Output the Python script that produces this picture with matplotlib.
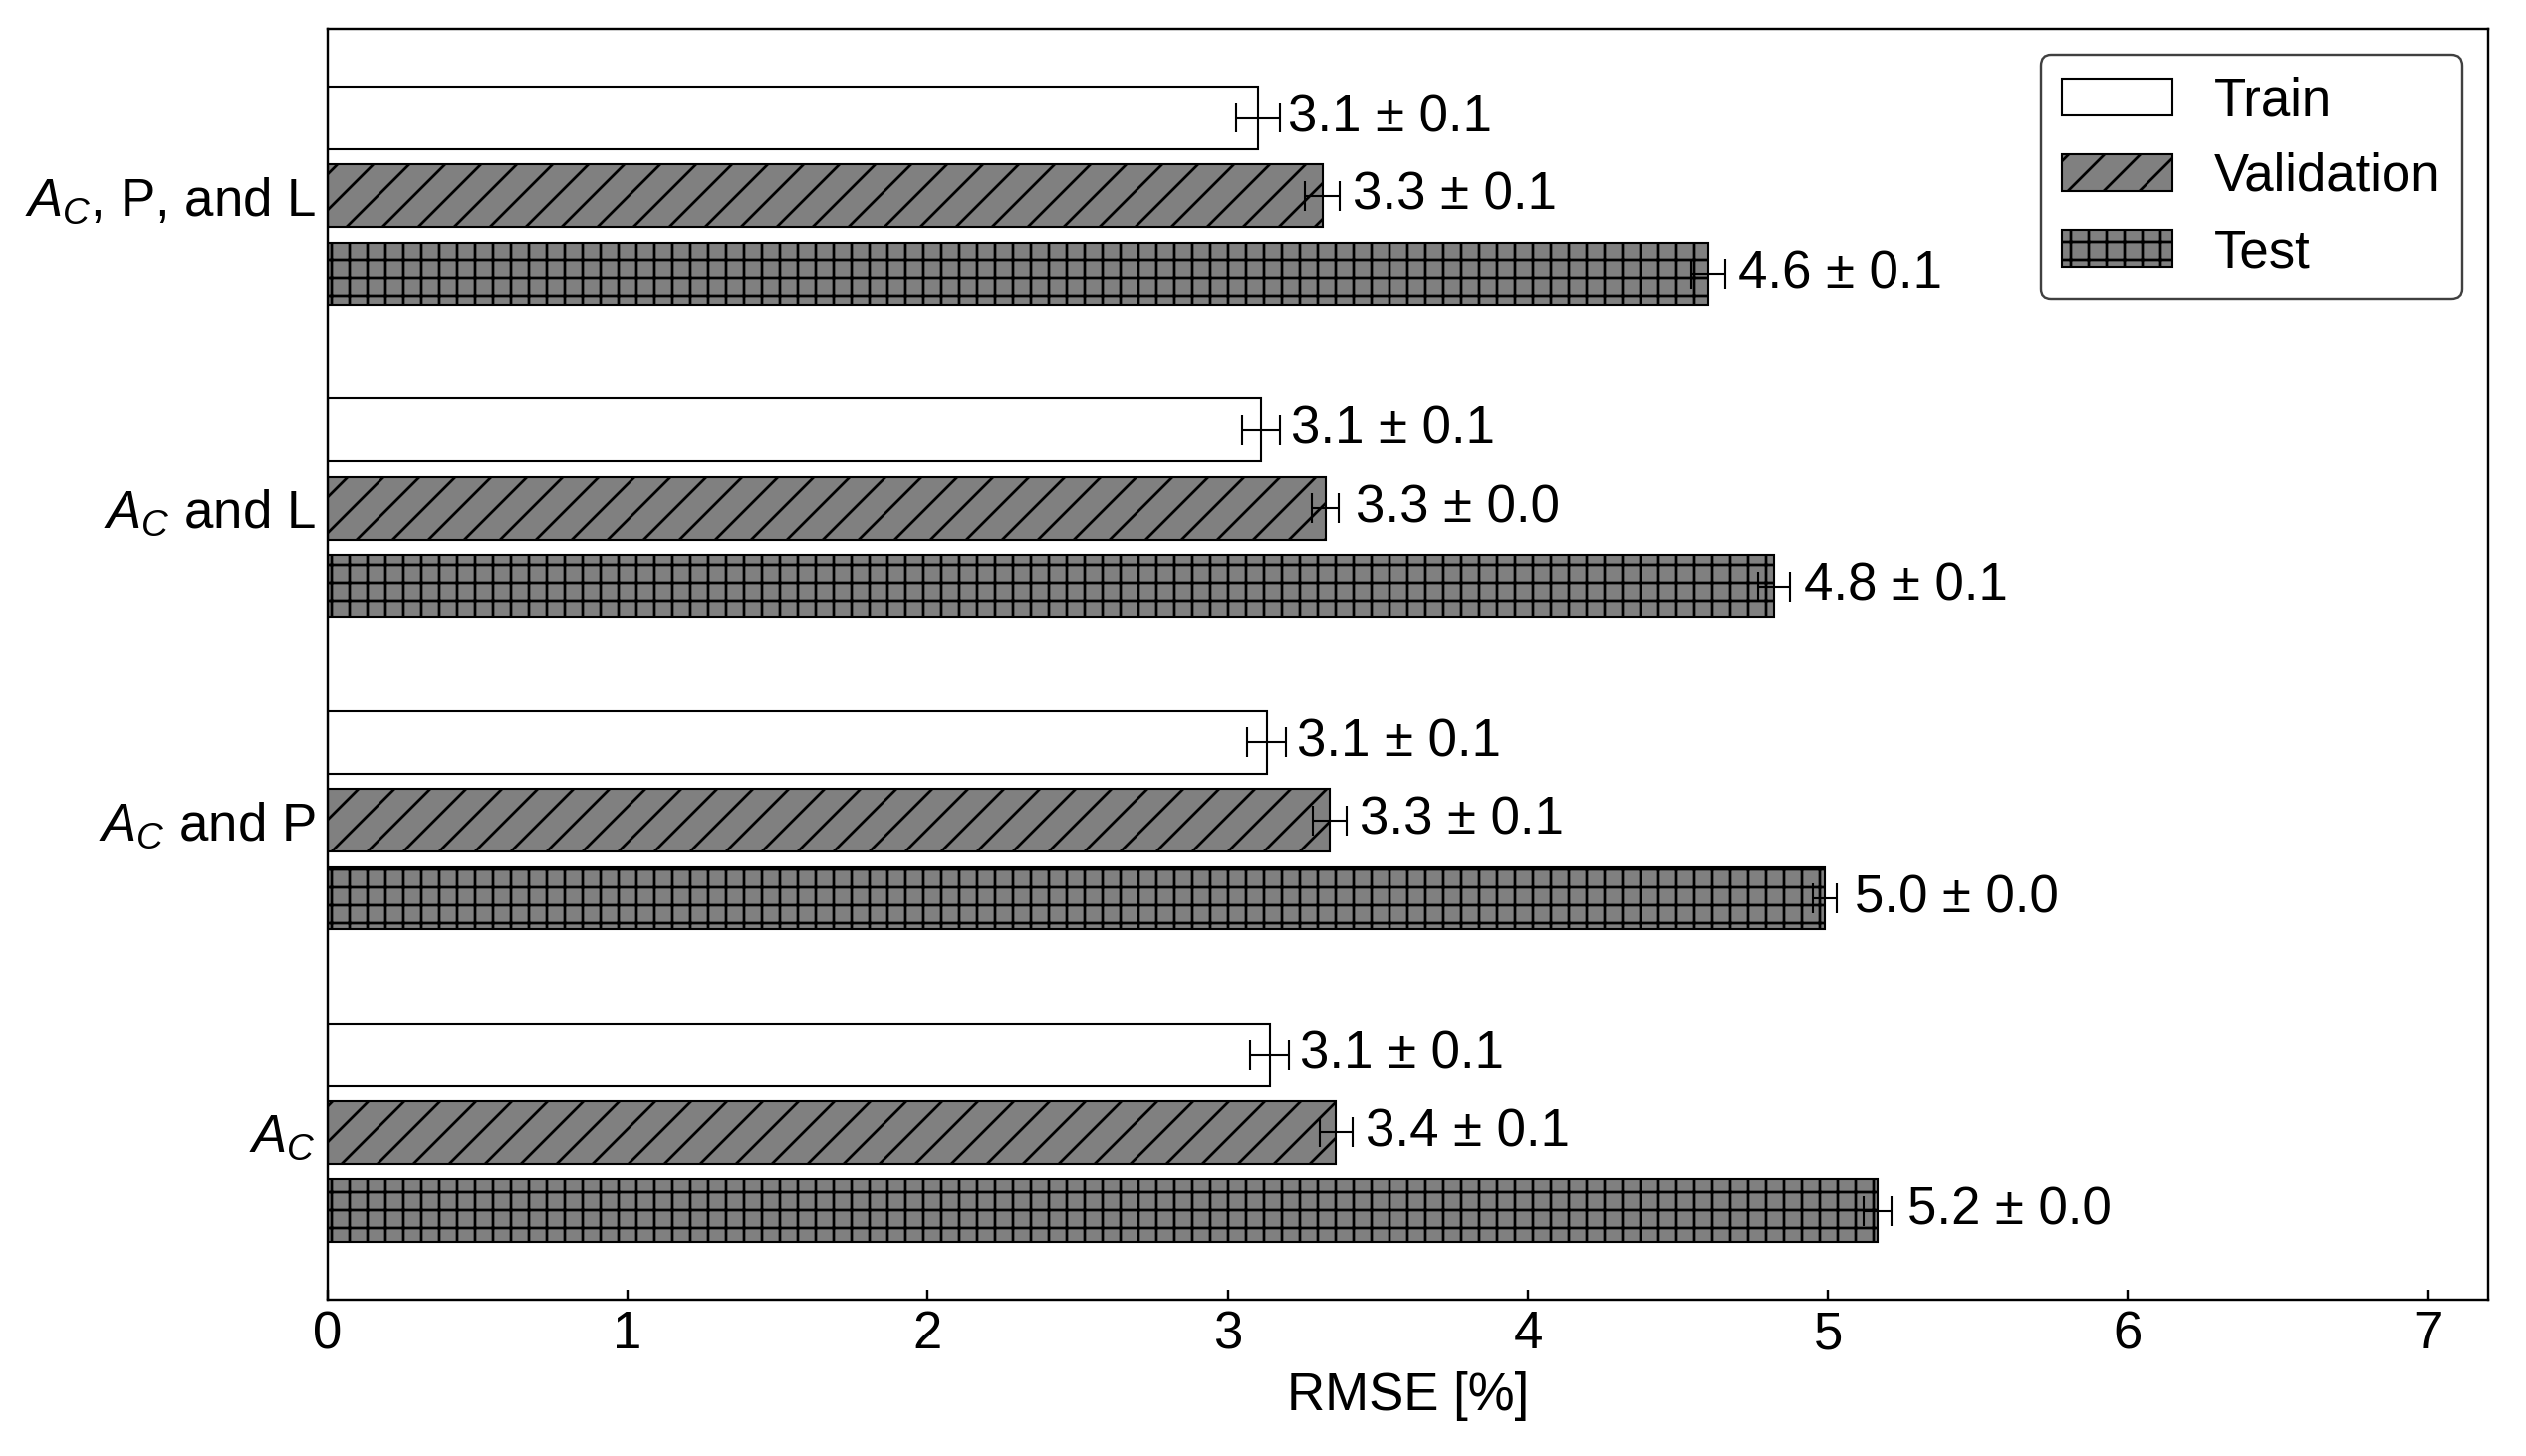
import numpy as np
import matplotlib
matplotlib.use('Agg')
import matplotlib.pyplot as plt

# ---------------- data ----------------
categories = ['$A_C$', '$A_C$ and P', '$A_C$ and L', '$A_C$, P, and L']
train = [3.14, 3.13, 3.11, 3.10]
train_err = [0.065, 0.065, 0.063, 0.074]
val = [3.36, 3.34, 3.325, 3.315]
val_err = [0.055, 0.056, 0.046, 0.059]
test = [5.165, 4.99, 4.82, 4.60]
test_err = [0.047, 0.040, 0.053, 0.057]
series_names = ['Train', 'Validation', 'Test']

FS = 17.6
plt.rcParams['font.family'] = ['Liberation Sans', 'DejaVu Sans']
plt.rcParams['mathtext.fontset'] = 'custom'
plt.rcParams['mathtext.rm'] = 'Liberation Sans'
plt.rcParams['mathtext.it'] = 'Liberation Sans:italic'
plt.rcParams['font.size'] = FS
plt.rcParams['hatch.linewidth'] = 0.9

DPI = 216
fig, ax = plt.subplots(figsize=(2536 / DPI, 1462 / DPI), dpi=DPI)
fig.subplots_adjust(left=0.1297, right=0.9850, top=0.9802, bottom=0.1074)

y = np.arange(len(categories))
bar_h = 0.2
step = 0.25
err_kw = dict(ecolor='black', elinewidth=0.7, capsize=5, capthick=0.7)

styles = [
    dict(color='white', hatch=None),
    dict(color='#808080', hatch='//'),
    dict(color='#808080', hatch='++'),
]
offsets = [step, 0.0, -step]
vals = [train, val, test]
errs = [train_err, val_err, test_err]

for name, off, v, e, st in zip(series_names, offsets, vals, errs, styles):
    ax.barh(y + off, v, height=bar_h, xerr=e, color=st['color'],
            hatch=st['hatch'], edgecolor='black', linewidth=0.7,
            error_kw=err_kw, label=name)
    # value labels sit just right of each bar
    for yy, vv, ee in zip(y + off, v, e):
        ax.text(vv + 0.1, yy, f'{vv:.1f} \u00b1 {ee:.1f}', va='center',
                ha='left', fontsize=FS)

ax.set_yticks(y)
ax.set_yticklabels(categories)
ax.tick_params(axis='y', length=0, pad=4)
ax.tick_params(axis='x', direction='in', length=3.5)
ax.set_xlim(0, 7.2)
ax.set_xticks(range(0, 8))
ax.set_xlabel('RMSE [%]')

leg = ax.legend(loc='upper right', fancybox=True, edgecolor='0.25',
                framealpha=1, handlelength=2.1)
leg.get_frame().set_linewidth(0.8)

fig.savefig('out.png', dpi=DPI)
